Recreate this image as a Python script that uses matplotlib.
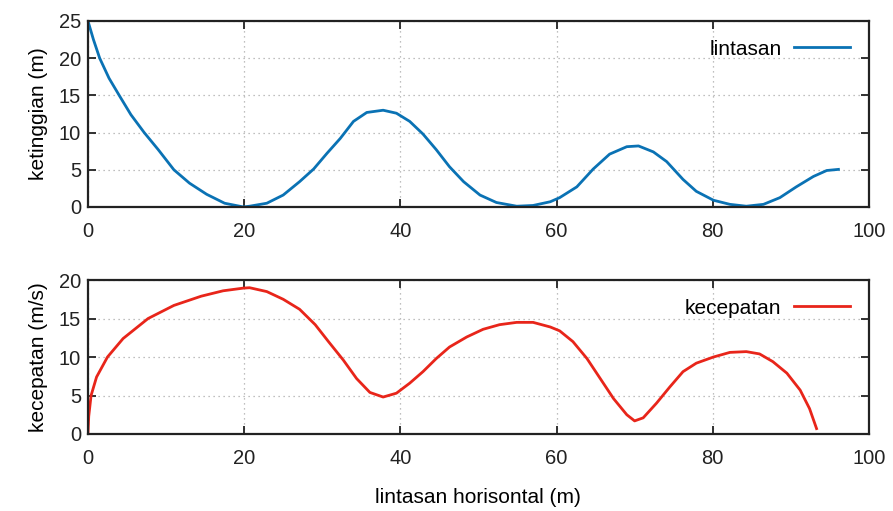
import numpy as np
import matplotlib
import matplotlib.pyplot as plt

matplotlib.use('Agg')
plt.rcParams['font.family'] = ['Liberation Sans', 'DejaVu Sans']

# ------------------------ data ------------------------
# ketinggian (height) vs lintasan horisontal
x_h = [0, 0.7, 1.5, 2.7, 4.0, 5.5, 7.2, 9.0, 11.0, 13.0, 15.2, 17.5, 19.9,
       20.7, 22.9, 25.0, 27.1, 28.9, 30.6, 32.3, 34.0, 35.7, 37.8, 39.5, 41.2,
       42.9, 44.6, 46.3, 48.1, 50.2, 52.3, 54.9, 57.0, 59.2, 60.4, 62.6, 64.7,
       66.8, 69.0, 70.5, 72.4, 74.1, 76.2, 77.9, 80.1, 82.2, 84.3, 86.5, 88.6,
       90.7, 92.9, 94.6, 96.1]
h = [25.0, 22.5, 20.0, 17.3, 15.0, 12.4, 10.0, 7.7, 5.0, 3.2, 1.7, 0.5, 0.0,
     0.1, 0.5, 1.6, 3.4, 5.1, 7.2, 9.2, 11.5, 12.7, 13.0, 12.6, 11.5,
     9.8, 7.7, 5.4, 3.4, 1.6, 0.6, 0.1, 0.2, 0.7, 1.25, 2.7, 5.1,
     7.1, 8.1, 8.2, 7.4, 6.1, 3.7, 2.1, 0.9, 0.35, 0.1, 0.35, 1.25,
     2.7, 4.1, 4.9, 5.05]

# kecepatan (speed) vs lintasan horisontal
x_v = [0, 0.1, 0.4, 1.1, 2.5, 4.5, 7.7, 11.0, 14.5, 17.3, 19.9, 20.7, 22.9,
       25.0, 27.1, 29.1, 30.8, 32.7, 34.4, 36.1, 37.8, 39.5, 41.2, 42.9, 44.6,
       46.3, 48.5, 50.6, 52.7, 54.9, 57.0, 59.2, 60.4, 62.1, 63.9, 65.6, 67.3,
       69.0, 70.0, 71.1, 72.8, 74.5, 76.2, 77.9, 80.1, 82.2, 84.3, 86.0, 87.7,
       89.5, 91.2, 92.4, 93.3]
v = [0.0, 2.3, 5.0, 7.4, 10.0, 12.4, 15.0, 16.7, 17.9, 18.6, 18.95, 19.0, 18.5,
     17.5, 16.2, 14.2, 12.0, 9.6, 7.2, 5.4, 4.8, 5.3, 6.6, 8.1, 9.8,
     11.3, 12.6, 13.6, 14.2, 14.5, 14.5, 13.9, 13.4, 12.0, 9.8, 7.2, 4.6,
     2.5, 1.7, 2.1, 4.0, 6.1, 8.1, 9.2, 10.0, 10.6, 10.7, 10.4, 9.4,
     7.9, 5.7, 3.3, 0.7]

x_ticks = [0, 20, 40, 60, 80, 100]
h_ticks = [0, 5, 10, 15, 20, 25]
v_ticks = [0, 5, 10, 15, 20]

# ---------------------------------- Plotting ------------------------------------
fig = plt.figure(figsize=(8.93, 5.11), dpi=100)
ax1 = fig.add_axes([0.0985, 0.595, 0.8745, 0.364])
ax2 = fig.add_axes([0.0985, 0.1507, 0.8745, 0.3013])

blue = '#0a72b4'
red = '#e8251a'

ax1.plot(x_h, h, color=blue, lw=2.0, label='lintasan', solid_joinstyle='round')
ax2.plot(x_v, v, color=red, lw=2.0, label='kecepatan', solid_joinstyle='round')

ax1.set_ylim(0, 25)
ax1.set_yticks(h_ticks)
ax2.set_ylim(0, 20)
ax2.set_yticks(v_ticks)
ax1.set_ylabel('ketinggian (m)', fontsize=15, labelpad=8)
ax2.set_ylabel('kecepatan (m/s)', fontsize=15, labelpad=8)
ax2.set_xlabel('lintasan horisontal (m)', fontsize=15, labelpad=14)

for ax in (ax1, ax2):
    ax.set_xlim(0, 100)
    ax.set_xticks(x_ticks)
    ax.tick_params(direction='in', length=6, width=1.3, top=True, right=True,
                   labelsize=14.5, colors='#222222', pad=5)
    ax.tick_params(axis='x', pad=11)
    for s in ax.spines.values():
        s.set_linewidth(1.6)
        s.set_color('#222222')
    ax.grid(True, linestyle=(0, (1, 3)), color='#aaaaaa', lw=0.9)
    ax.legend(loc='upper right', frameon=False, markerfirst=False,
              fontsize=15, handlelength=2.7, borderaxespad=0.5,
              handletextpad=0.6)

plt.savefig('out.png', dpi=100)
